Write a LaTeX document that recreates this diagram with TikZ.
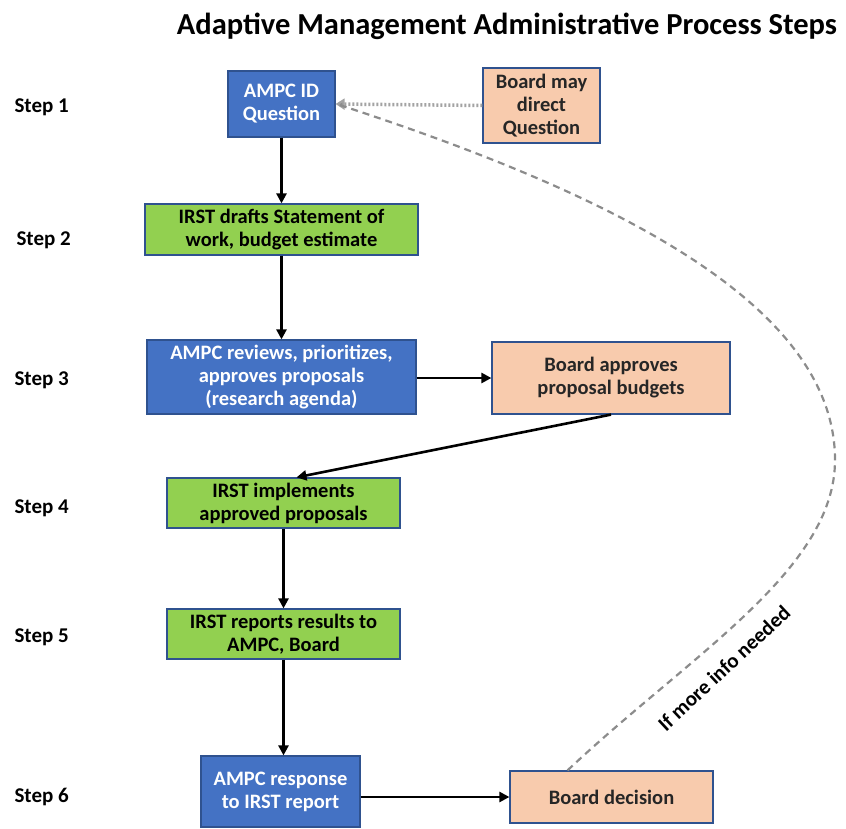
\documentclass[tikz,border=0pt]{standalone}
\usepackage{fontspec}
\setmainfont{Carlito}
\usetikzlibrary{arrows.meta,calc}
\definecolor{bxblue}{HTML}{4472C4}
\definecolor{bxgreen}{HTML}{92D050}
\definecolor{bxorange}{HTML}{F8CBAD}
\definecolor{bxedge}{HTML}{2F528F}
\definecolor{fbgray}{HTML}{8C8C8C}
\begin{document}
\begin{tikzpicture}[x=1pt,y=-1pt,
  box/.style={draw=bxedge,line width=1.2pt,inner sep=0pt,align=center,font=\bfseries\fontsize{20.5}{23}\selectfont},
  bluebox/.style={box,fill=bxblue,text=white},
  greenbox/.style={box,fill=bxgreen,text=black},
  orangebox/.style={box,fill=bxorange,text=black!85},
  steplbl/.style={font=\bfseries\fontsize{21}{24}\selectfont,anchor=west},
  flow/.style={line width=2.6pt,-{Triangle[length=10pt,width=10pt]}},
  feedback/.style={draw=fbgray,line width=2.2pt,dash pattern=on 7pt off 5pt}
]
\useasboundingbox (0,0) rectangle (846,829);
\node[font=\bfseries\fontsize{30.5}{34}\selectfont] (title) at (507,26) {Adaptive Management Administrative Process Steps};

\node[steplbl] (l1) at (11,107) {Step 1};
\node[steplbl] (l2) at (13,240) {Step 2};
\node[steplbl] (l3) at (11,380) {Step 3};
\node[steplbl] (l4) at (11,508) {Step 4};
\node[steplbl] (l5) at (11,637) {Step 5};
\node[steplbl] (l6) at (11,797) {Step 6};

\node[bluebox,minimum width=107pt,minimum height=66pt] (q1) at (281.5,104) {AMPC ID\\Question};
\node[orangebox,minimum width=117pt,minimum height=75pt] (bq) at (541.5,105.5) {Board may\\direct\\Question};
\node[greenbox,minimum width=273pt,minimum height=51pt] (s2) at (281.5,229.5) {IRST drafts Statement of\\work, budget estimate};
\node[bluebox,minimum width=269pt,minimum height=74pt] (s3) at (281.5,377) {AMPC reviews, prioritizes,\\approves proposals\\(research agenda)};
\node[orangebox,minimum width=238pt,minimum height=72pt] (ba) at (611,378) {Board approves\\proposal budgets};
\node[greenbox,minimum width=233pt,minimum height=50pt] (s4) at (283.5,503) {IRST implements\\approved proposals};
\node[greenbox,minimum width=233pt,minimum height=50pt] (s5) at (283.5,634) {IRST reports results to\\AMPC, Board};
\node[bluebox,minimum width=159pt,minimum height=71pt] (s6) at (280.5,791.5) {AMPC response\\to IRST report};
\node[orangebox,minimum width=203pt,minimum height=52pt] (bd) at (611.5,797) {Board decision};

\draw[flow] (q1.south) -- (s2.north);
\draw[flow] (s2.south) -- (s3.north);
\draw[flow] (s3.east |- ba.west) -- (ba.west);
\coordinate (s4in) at ($(s4.north)+(13,0)$);
\draw[flow] (ba.south) -- (s4in);
\draw[flow] (s4.south) -- (s5.north);
\draw[flow] (s5.south) -- (s5.south |- s6.north);
\draw[flow] (s6.east |- bd.west) -- (bd.west);

\draw[draw=fbgray!80,line width=3.5pt,dash pattern=on 2pt off 2pt,-{Triangle[length=9pt,width=11pt,fill=fbgray]}] (bq.west) -- (q1.east);

\coordinate (fbstart) at ($(bd.north)+(-44,0)$);
\coordinate (fbend) at ($(q1.east)+(4,1)$);
\draw[feedback] (fbstart) .. controls (690,655) and (835,570) .. (835,460)
  .. controls (835,300) and (600,190) .. (fbend);
\node[font=\bfseries\fontsize{21}{24}\selectfont,rotate=43] (fblbl) at (724,668) {If more info needed};
\end{tikzpicture}
\end{document}
